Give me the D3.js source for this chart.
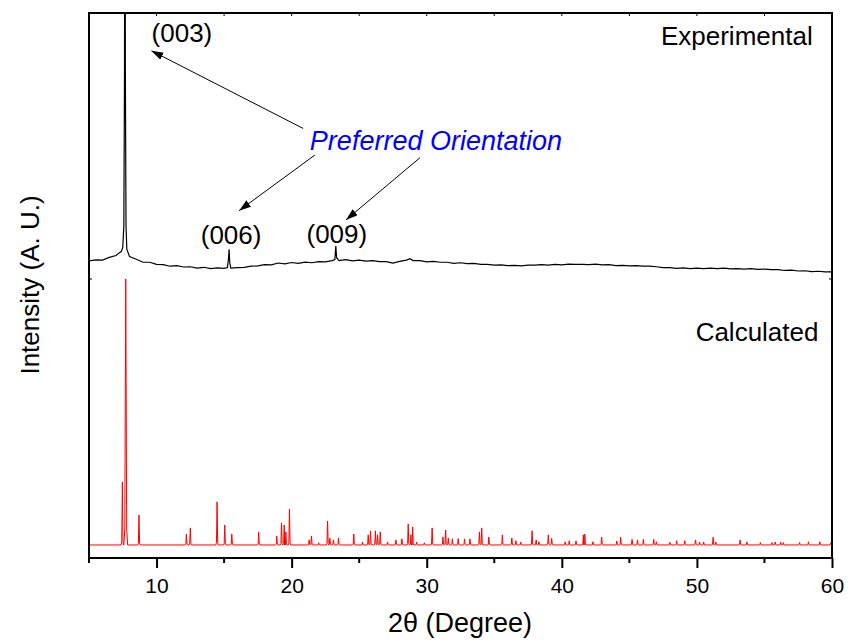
<!DOCTYPE html>
<html>
<head>
<meta charset="utf-8">
<script src="https://cdn.jsdelivr.net/npm/d3@7"></script>
<style>
  body { margin: 0; background: #fff; }
  svg { display: block; font-family: "Liberation Sans", Arial, sans-serif; }
</style>
</head>
<body>
<div id="chart"></div>
<script>
// experimental pattern, 2theta and intensity above its offset
const expX = [5, 5.5, 6, 6.5, 7, 7.25, 7.4, 7.5, 7.58, 7.63, 7.66, 7.69, 7.74, 7.8, 8, 8.5, 9, 9.5, 10, 10.5,
  11, 11.5, 12, 12.5, 13, 13.5, 14, 14.5, 15, 15.25, 15.33, 15.37, 15.42, 15.5, 16, 16.5, 17, 17.5, 18, 18.5,
  19, 19.5, 20, 20.5, 21, 21.5, 22, 22.5, 23, 23.2, 23.27, 23.33, 23.5, 24, 24.5, 25, 25.5, 26, 26.5, 27,
  27.5, 28, 28.5, 28.75, 29, 29.5, 30, 30.5, 31, 31.5, 32, 32.5, 33, 33.5, 34, 34.5, 35, 35.5, 36, 36.5,
  37, 37.5, 38, 38.5, 39, 39.5, 40, 40.5, 41, 41.5, 42, 42.5, 43, 43.5, 44, 44.5, 45, 45.5, 46, 46.5,
  47, 47.5, 48, 48.5, 49, 49.5, 50, 50.5, 51, 51.5, 52, 52.5, 53, 53.5, 54, 54.5, 55, 55.5, 56, 56.5,
  57, 57.5, 58, 58.5, 59, 59.5, 60];
const expY = [6.8, 7.2, 7.1, 8.1, 8.8, 9.9, 10.4, 12, 20, 80, 300, 80, 20, 11.2, 8.4, 7.4, 6.3, 6.3, 5.5, 5.4,
  4.8, 5.0, 4.5, 4.6, 4.1, 4.4, 3.9, 4.2, 4.0, 4.3, 8, 11.2, 6, 4.1, 4.3, 4.4, 4.8, 4.9, 5.4, 5.3,
  6.0, 5.7, 6.2, 5.9, 6.3, 6.1, 6.5, 6.4, 6.9, 7.3, 12.4, 8, 6.9, 7.3, 6.8, 7.1, 6.7, 6.9, 6.5, 6.5,
  6.0, 6.6, 7.1, 7.6, 6.9, 6.9, 6.4, 6.6, 6.3, 6.3, 5.9, 6.1, 5.8, 5.9, 5.5, 5.5, 5.2, 5.3, 5.0, 5.1,
  4.9, 5.2, 5.2, 5.4, 5.2, 5.5, 5.3, 5.6, 5.5, 5.5, 5.4, 5.6, 5.3, 5.4, 5.0, 5.1, 4.9, 5.0, 4.8, 4.8,
  4.6, 4.3, 4.3, 4.0, 4.2, 3.9, 4.1, 3.9, 4.1, 3.9, 4.1, 3.8, 3.9, 3.7, 3.9, 3.6, 3.7, 3.5, 3.5, 3.2,
  3.3, 3.0, 3.1, 2.8, 2.9, 2.7, 2.7];
const expOffset = 100;

// calculated pattern: reflection positions (2theta) and relative intensities
const calcPos = [7.47, 7.72, 8.70, 12.21, 12.50, 14.48, 15.05, 15.57, 17.56, 18.90, 19.25, 19.45, 19.57, 19.84,
  21.30, 21.47, 22.00, 22.66, 22.83, 23.10, 23.47, 24.60, 25.25, 25.67, 25.84, 26.20, 26.36, 26.56, 27.10,
  27.72, 28.16, 28.63, 28.83, 28.96, 29.25, 29.82, 30.40, 31.20, 31.40, 31.60, 31.90, 32.33, 32.80, 33.20,
  33.90, 34.07, 34.60, 35.60, 36.30, 36.60, 36.96, 37.80, 38.10, 38.30, 39.00, 39.25, 40.25, 40.55, 41.05,
  41.60, 41.70, 42.30, 42.95, 44.07, 44.36, 45.20, 45.60, 46.04, 46.80, 47.00, 48.00, 48.50, 49.10, 49.90,
  50.20, 50.50, 51.20, 51.40, 53.20, 53.70, 54.70, 55.55, 55.80, 56.20, 56.40, 57.60, 58.26, 59.10, 59.90];
const calcInt = [23.7, 100, 11.3, 4.1, 6.4, 16.2, 7.5, 4.1, 4.9, 3.4, 8.3, 7.5, 4.9, 13.5,
  1.9, 3.4, 0.8, 9.0, 2.6, 1.9, 2.6, 4.1, 1.1, 3.8, 5.3, 5.3, 3.8, 4.9, 1.1,
  1.9, 2.3, 7.9, 3.8, 6.8, 1.1, 0.8, 6.4, 3.0, 5.6, 2.6, 2.3, 2.4, 2.3, 2.3,
  4.9, 6.4, 3.0, 3.8, 2.6, 1.6, 1.1, 5.3, 1.9, 1.2, 3.8, 2.5, 1.2, 1.6, 1.5,
  3.8, 4.1, 1.2, 2.9, 1.5, 2.9, 2.1, 1.9, 2.1, 2.1, 1.2, 1.0, 1.6, 1.6, 1.9,
  1.1, 1.1, 2.9, 1.1, 1.9, 1.1, 0.9, 0.9, 1.1, 1.1, 0.9, 0.9, 1.2, 1.2, 0.8];

const xTicks = [10, 20, 30, 40, 50, 60];
const xMinor = [5, 15, 25, 35, 45, 55];
const yTicks = [100];

// annotations (data coordinates)
const labels = [
  { t: '(003)', x: 9.63, y: 189.1 },
  { t: '(006)', x: 13.27, y: 113.2 },
  { t: '(009)', x: 21.1, y: 113.5 }
];
const arrows = [
  { x1: 20.85, y1: 156.6, x2: 9.62, y2: 185.8 },
  { x1: 21.72, y1: 146.6, x2: 16.11, y2: 125.7 },
  { x1: 29.5, y1: 145.6, x2: 24.02, y2: 122.2 }
];

const width = 851, height = 643;
const m = { left: 89, right: 832, top: 13, bottom: 558 };

const svg = d3.select('#chart').append('svg')
  .attr('width', width).attr('height', height);

const x = d3.scaleLinear().domain([5, 60]).range([m.left, m.right]);
const y = d3.scaleLinear().domain([-4.9, 200]).range([m.bottom, m.top]);

svg.append('defs').append('clipPath').attr('id', 'clip')
  .append('rect').attr('x', m.left).attr('y', m.top)
  .attr('width', m.right - m.left).attr('height', m.bottom - m.top);

const defs = svg.select('defs');
defs.append('marker').attr('id', 'head')
  .attr('viewBox', '0 0 12 8').attr('refX', 12).attr('refY', 4)
  .attr('markerWidth', 12).attr('markerHeight', 8)
  .attr('markerUnits', 'userSpaceOnUse').attr('orient', 'auto')
  .append('path').attr('d', 'M0,0 L12,4 L0,8 Z').attr('fill', '#000');

const plot = svg.append('g').attr('clip-path', 'url(#clip)');

// experimental
const expData = expX.map((d, i) => [d, expY[i] + expOffset]);
plot.append('path').datum(expData)
  .attr('fill', 'none').attr('stroke', '#000').attr('stroke-width', 1.2)
  .attr('d', d3.line().x(d => x(d[0])).y(d => y(d[1])));

// calculated: narrow peaks on a zero baseline
const w = 0.045;
let calcData = [[5, 0]];
calcPos.forEach((p, i) => {
  const ww = calcInt[i] > 50 ? 0.07 : w;
  calcData.push([p - ww * 2, 0], [p - ww, calcInt[i] * 0.06], [p, calcInt[i]], [p + ww, calcInt[i] * 0.06], [p + ww * 2, 0]);
});
calcData.push([60, 0]);
calcData.sort((a, b) => a[0] - b[0]);
plot.append('path').datum(calcData)
  .attr('fill', 'none').attr('stroke', '#ff0000').attr('stroke-width', 1)
  .attr('d', d3.line().x(d => x(d[0])).y(d => y(d[1])));

// frame
svg.append('rect').attr('x', m.left).attr('y', m.top)
  .attr('width', m.right - m.left).attr('height', m.bottom - m.top)
  .attr('fill', 'none').attr('stroke', '#000').attr('stroke-width', 2);

// bottom axis
const xAxis = svg.append('g').attr('transform', `translate(0,${m.bottom})`)
  .call(d3.axisBottom(x).tickValues(xTicks).tickSize(10).tickFormat(d3.format('d')));
xAxis.select('.domain').remove();
xAxis.selectAll('line').attr('stroke-width', 2);
xAxis.selectAll('text').attr('font-size', 21).attr('dy', 0).attr('y', 35)
  .attr('font-family', '"Liberation Sans", Arial, sans-serif').attr('fill', '#000');
svg.append('g').selectAll('line').data(xMinor).join('line')
  .attr('x1', d => x(d)).attr('x2', d => x(d))
  .attr('y1', m.bottom).attr('y2', m.bottom + 5)
  .attr('stroke', '#000').attr('stroke-width', 2);

// top axis small inward ticks
svg.append('g').selectAll('line').data(xTicks.concat(xMinor)).join('line')
  .attr('x1', d => x(d)).attr('x2', d => x(d))
  .attr('y1', m.top).attr('y2', m.top + 3)
  .attr('stroke', '#000').attr('stroke-width', 1);

// left / right small inward ticks
yTicks.forEach(v => {
  svg.append('line').attr('x1', m.left).attr('x2', m.left + 3)
    .attr('y1', y(v)).attr('y2', y(v)).attr('stroke', '#000');
  svg.append('line').attr('x1', m.right - 3).attr('x2', m.right)
    .attr('y1', y(v)).attr('y2', y(v)).attr('stroke', '#000');
});

// axis titles
svg.append('text').attr('x', 460).attr('y', 632)
  .attr('text-anchor', 'middle').attr('font-size', 27)
  .text('2θ (Degree)');
svg.append('text').attr('transform', 'translate(39,285) rotate(-90)')
  .attr('text-anchor', 'middle').attr('font-size', 26)
  .text('Intensity (A. U.)');

// series names
svg.append('text').attr('x', x(58.57)).attr('y', y(188))
  .attr('text-anchor', 'end').attr('font-size', 26).text('Experimental');
svg.append('text').attr('x', x(59.0)).attr('y', y(76.7))
  .attr('text-anchor', 'end').attr('font-size', 26).text('Calculated');

// peak labels and arrows
svg.append('g').selectAll('text').data(labels).join('text')
  .attr('x', d => x(d.x)).attr('y', d => y(d.y))
  .attr('font-size', 26).text(d => d.t);
svg.append('text').attr('x', x(21.35)).attr('y', y(148.5))
  .attr('font-size', 27).attr('font-style', 'italic').attr('fill', '#0000ff')
  .text('Preferred Orientation');
svg.append('g').selectAll('line').data(arrows).join('line')
  .attr('x1', d => x(d.x1)).attr('y1', d => y(d.y1))
  .attr('x2', d => x(d.x2)).attr('y2', d => y(d.y2))
  .attr('stroke', '#000').attr('stroke-width', 1)
  .attr('marker-end', 'url(#head)');
</script>
</body>
</html>
